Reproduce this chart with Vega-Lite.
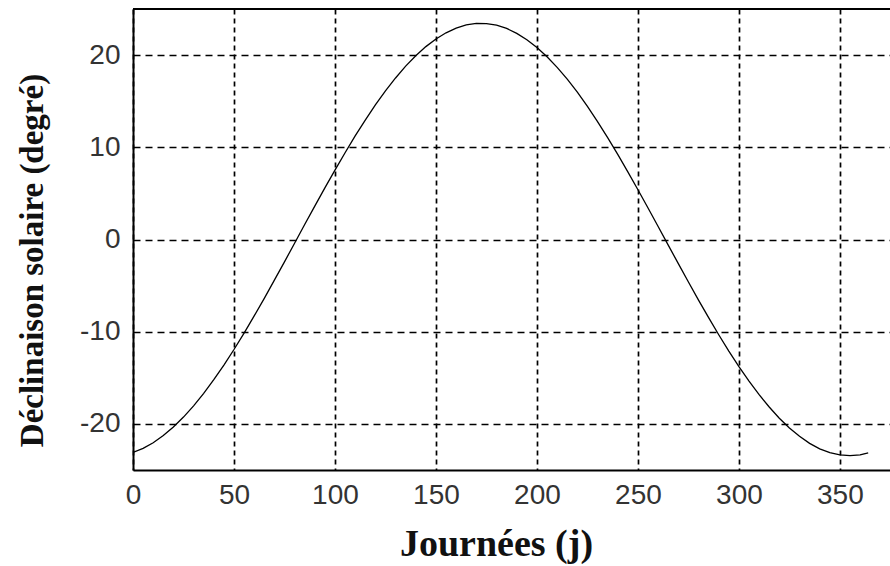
{
  "$schema": "https://vega.github.io/schema/vega-lite/v6.json",
  "autosize": "none",
  "padding": {"left": 133, "top": 9, "right": 0, "bottom": 96},
  "width": 757,
  "height": 461,
  "background": "white",
  "config": {
    "view": {"stroke": null},
    "axis": {
      "labelFont": "Liberation Sans",
      "labelFontSize": 28,
      "labelColor": "#333333",
      "titleFont": "Liberation Serif",
      "titleFontWeight": "bold",
      "titleColor": "#111111",
      "domainColor": "black",
      "domainWidth": 2,
      "ticks": false,
      "gridColor": "black",
      "gridWidth": 1.7,
      "gridOpacity": 1
    }
  },
  "data": {
    "values": [
      {"j": 0, "d": -23.09}, {"j": 5, "d": -22.65}, {"j": 10, "d": -22.04}, {"j": 15, "d": -21.27},
      {"j": 20, "d": -20.34}, {"j": 25, "d": -19.26}, {"j": 30, "d": -18.04}, {"j": 35, "d": -16.69},
      {"j": 40, "d": -15.21}, {"j": 45, "d": -13.62}, {"j": 50, "d": -11.93}, {"j": 55, "d": -10.15},
      {"j": 60, "d": -8.29}, {"j": 65, "d": -6.38}, {"j": 70, "d": -4.41}, {"j": 75, "d": -2.42},
      {"j": 80, "d": -0.41}, {"j": 85, "d": 1.62}, {"j": 90, "d": 3.62}, {"j": 95, "d": 5.60},
      {"j": 100, "d": 7.53}, {"j": 105, "d": 9.41}, {"j": 110, "d": 11.23}, {"j": 115, "d": 12.95},
      {"j": 120, "d": 14.59}, {"j": 125, "d": 16.11}, {"j": 130, "d": 17.52}, {"j": 135, "d": 18.80},
      {"j": 140, "d": 19.93}, {"j": 145, "d": 20.92}, {"j": 150, "d": 21.75}, {"j": 155, "d": 22.42},
      {"j": 160, "d": 22.93}, {"j": 165, "d": 23.27}, {"j": 170, "d": 23.43}, {"j": 175, "d": 23.42},
      {"j": 180, "d": 23.24}, {"j": 185, "d": 22.89}, {"j": 190, "d": 22.36}, {"j": 195, "d": 21.67},
      {"j": 200, "d": 20.82}, {"j": 205, "d": 19.82}, {"j": 210, "d": 18.67}, {"j": 215, "d": 17.39},
      {"j": 220, "d": 15.98}, {"j": 225, "d": 14.43}, {"j": 230, "d": 12.79}, {"j": 235, "d": 11.05},
      {"j": 240, "d": 9.23}, {"j": 245, "d": 7.34}, {"j": 250, "d": 5.40}, {"j": 255, "d": 3.42},
      {"j": 260, "d": 1.41}, {"j": 265, "d": -0.61}, {"j": 270, "d": -2.62}, {"j": 275, "d": -4.61},
      {"j": 280, "d": -6.57}, {"j": 285, "d": -8.48}, {"j": 290, "d": -10.33}, {"j": 295, "d": -12.10},
      {"j": 300, "d": -13.78}, {"j": 305, "d": -15.36}, {"j": 310, "d": -16.83}, {"j": 315, "d": -18.17},
      {"j": 320, "d": -19.38}, {"j": 325, "d": -20.44}, {"j": 330, "d": -21.35}, {"j": 335, "d": -22.11},
      {"j": 340, "d": -22.70}, {"j": 345, "d": -23.12}, {"j": 350, "d": -23.37}, {"j": 355, "d": -23.45},
      {"j": 360, "d": -23.35}, {"j": 364, "d": -23.14}
    ]
  },
  "layer": [
    {
      "mark": {"type": "line", "color": "black", "strokeWidth": 1.3, "clip": true},
      "encoding": {
        "x": {
          "field": "j",
          "type": "quantitative",
          "scale": {"domain": [0, 374.8], "nice": false, "zero": false},
          "axis": {
            "title": "Journées (j)",
            "values": [0, 50, 100, 150, 200, 250, 300, 350],
            "gridDash": [5, 4],
            "labelPadding": 11,
            "labelFlush": false,
            "titleFontSize": 38,
            "titleX": 363,
            "titleY": 85,
            "titleAlign": "center",
            "titleBaseline": "alphabetic"
          }
        },
        "y": {
          "field": "d",
          "type": "quantitative",
          "scale": {"domain": [-25, 25], "nice": false},
          "axis": {
            "title": "Déclinaison solaire (degré)",
            "values": [-20, -10, 0, 10, 20],
            "labelExpr": "'' + datum.value",
            "gridDash": [7, 5],
            "labelPadding": 13,
            "titleFontSize": 33,
            "titleAngle": -90,
            "titleX": -91,
            "titleY": 251,
            "titleAlign": "center",
            "titleBaseline": "alphabetic"
          }
        }
      }
    },
    {
      "mark": {"type": "rule", "color": "black", "strokeWidth": 2},
      "encoding": {"y": {"datum": 25}}
    }
  ]
}
